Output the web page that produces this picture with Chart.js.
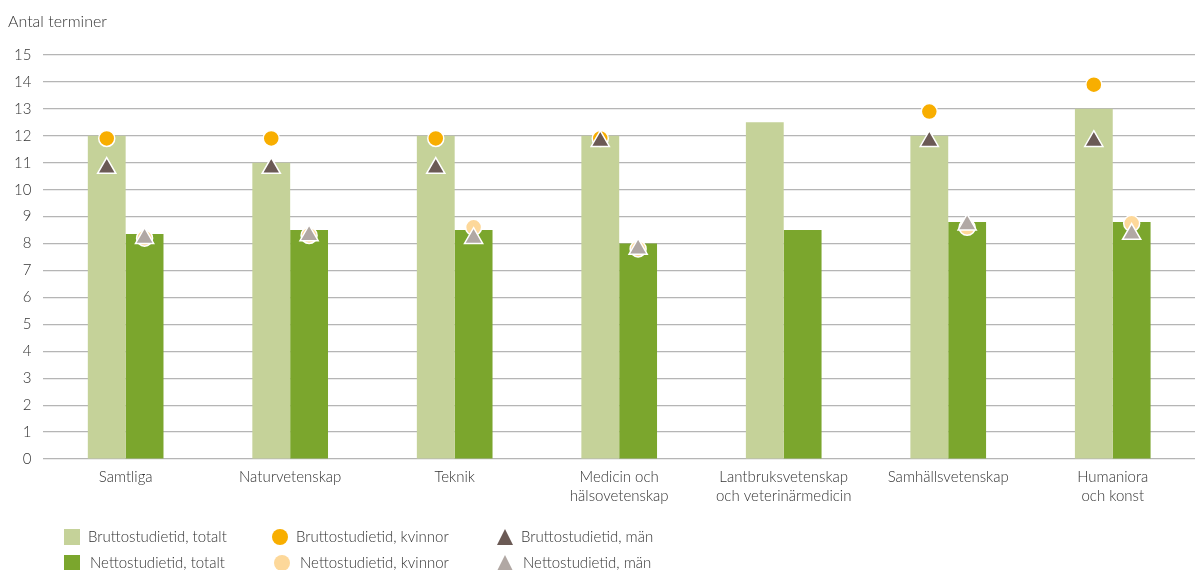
<!DOCTYPE html>
<html>
<head>
<meta charset="utf-8">
<script src="https://cdn.jsdelivr.net/npm/chart.js@4"></script>
<style>
  body { margin: 0; background: #fff; font-family: Lato, sans-serif; color: #333; }
  #wrap { position: relative; width: 1195px; height: 570px; overflow: hidden; }
  #title { position: absolute; left: 8px; top: 11px; font-size: 16px; font-weight: 300; }
  .leg { position: absolute; font-size: 15px; font-weight: 300; white-space: nowrap; line-height: 18px; }
  .mk { position: absolute; }
</style>
</head>
<body>
<div id="wrap">
  <canvas id="c" width="1195" height="570"></canvas>
  <div id="title">Antal terminer</div>
  <div id="legend"></div>
</div>
<script>
// ══ DATA ════════════════════════════════════════════════
const categories = ['Samtliga', 'Naturvetenskap', 'Teknik', ['Medicin och', 'hälsovetenskap'],
  ['Lantbruksvetenskap', 'och veterinärmedicin'], 'Samhällsvetenskap', ['Humaniora', 'och konst']];
const bruttoTotalt = [12, 11, 12, 12, 12.5, 12, 13];
const nettoTotalt = [8.35, 8.5, 8.5, 8.0, 8.5, 8.8, 8.8];
const bruttoKvinnor = [11.9, 11.9, 11.9, 11.9, null, 12.9, 13.9];
const nettoKvinnor = [8.2, 8.3, 8.6, 7.8, null, 8.6, 8.75];
const bruttoMan = [10.8, 10.8, 10.8, 11.8, null, 11.8, 11.8];
const nettoMan = [8.2, 8.3, 8.2, 7.8, null, 8.7, 8.35];
const yTicks = [0, 1, 2, 3, 4, 5, 6, 7, 8, 9, 10, 11, 12, 13, 14, 15];

const C = {
  bt: '#c5d299', nt: '#7ba62d',
  bk: '#f8ae00', nk: '#fdd89a',
  bm: '#6b5a55', nm: '#b1a8a4'
};

const circle = (color) => ({ pointStyle: 'circle', pointRadius: 8, pointBackgroundColor: color, pointBorderColor: '#fff', pointBorderWidth: 1.5 });
const tri = (color) => ({ pointStyle: 'triangle', pointRadius: 10.5, pointBackgroundColor: color, pointBorderColor: '#fff', pointBorderWidth: 1.5 });

// markers sit on the bar they belong to (barRef = index of bar dataset)
const alignToBars = {
  id: 'alignToBars',
  afterDatasetsUpdate(chart) {
    chart.data.datasets.forEach((ds, i) => {
      if (ds.barRef === undefined) return;
      const bars = chart.getDatasetMeta(ds.barRef).data;
      chart.getDatasetMeta(i).data.forEach((pt, j) => { if (bars[j]) pt.x = bars[j].x; });
    });
  }
};

new Chart(document.getElementById('c'), {
  type: 'bar',
  data: {
    labels: categories,
    datasets: [
      { label: 'Bruttostudietid, totalt', data: bruttoTotalt, backgroundColor: C.bt, order: 3, barPercentage: 1, categoryPercentage: 0.46 },
      { label: 'Nettostudietid, totalt', data: nettoTotalt, backgroundColor: C.nt, order: 3, barPercentage: 1, categoryPercentage: 0.46 },
      { type: 'line', label: 'Bruttostudietid, kvinnor', data: bruttoKvinnor, barRef: 0, showLine: false, order: 2, ...circle(C.bk) },
      { type: 'line', label: 'Nettostudietid, kvinnor', data: nettoKvinnor, barRef: 1, showLine: false, order: 2, ...circle(C.nk) },
      { type: 'line', label: 'Bruttostudietid, män', data: bruttoMan, barRef: 0, showLine: false, order: 1, ...tri(C.bm) },
      { type: 'line', label: 'Nettostudietid, män', data: nettoMan, barRef: 1, showLine: false, order: 1, ...tri(C.nm) },
    ]
  },
  plugins: [alignToBars],
  options: {
    responsive: false, animation: false,
    layout: { autoPadding: false, padding: { top: 55, right: -7, bottom: 64, left: 2 } },
    plugins: { legend: { display: false }, tooltip: { enabled: false } },
    scales: {
      x: {
        grid: { display: false }, border: { display: false },
        ticks: { color: '#333', font: { size: 15, family: 'Lato', weight: 300, lineHeight: 1.3 }, padding: 0, maxRotation: 0, autoSkip: false }
      },
      y: {
        min: 0, max: 15,
        afterBuildTicks: s => { s.ticks = yTicks.map(v => ({ value: v })); },
        grid: { color: '#b5b5b5', lineWidth: 1.2, drawTicks: false },
        border: { display: false },
        ticks: { color: '#333', font: { size: 15, family: 'Lato', weight: 300 }, padding: 12 }
      }
    }
  }
});

// ══ LEGEND ════════════════════════════════════════════════
const legendItems = [
  { text: 'Bruttostudietid, totalt', color: C.bt, shape: 'sq', x: 64, y: 537 },
  { text: 'Nettostudietid, totalt', color: C.nt, shape: 'sq', x: 64, y: 563 },
  { text: 'Bruttostudietid, kvinnor', color: C.bk, shape: 'ci', x: 272, y: 537 },
  { text: 'Nettostudietid, kvinnor', color: C.nk, shape: 'ci', x: 274, y: 563 },
  { text: 'Bruttostudietid, män', color: C.bm, shape: 'tr', x: 497, y: 537 },
  { text: 'Nettostudietid, män', color: C.nm, shape: 'tr', x: 497, y: 563 },
];
const lg = document.getElementById('legend');
legendItems.forEach((it, i) => {
  const m = document.createElement('div');
  m.className = 'mk';
  if (it.shape === 'sq') {
    Object.assign(m.style, { left: it.x + 'px', top: (it.y - 8) + 'px', width: '16px', height: '16px', background: it.color });
  } else if (it.shape === 'ci') {
    Object.assign(m.style, { left: it.x + 'px', top: (it.y - 8) + 'px', width: '16px', height: '16px', borderRadius: '50%', background: it.color });
  } else {
    Object.assign(m.style, { left: it.x + 'px', top: (it.y - 8) + 'px', width: 0, height: 0,
      borderLeft: '8px solid transparent', borderRight: '8px solid transparent', borderBottom: '16px solid ' + it.color });
  }
  lg.appendChild(m);
  const t = document.createElement('div');
  t.className = 'leg';
  t.textContent = it.text;
  t.style.left = (it.x + 24 + (i % 2) * 2) + 'px';
  t.style.top = (it.y - 10) + 'px';
  lg.appendChild(t);
});
</script>
</body>
</html>
